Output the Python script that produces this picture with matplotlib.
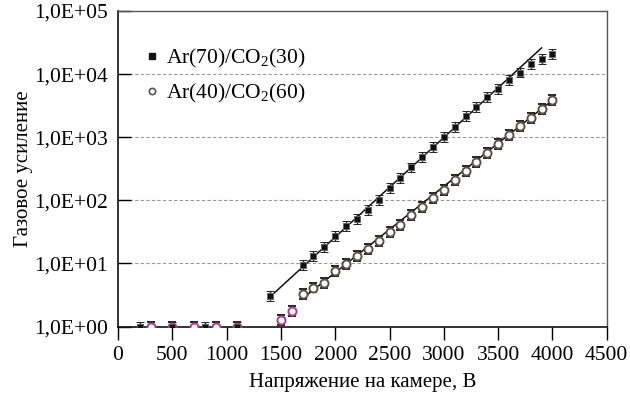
import numpy as np
import matplotlib
matplotlib.use("Agg")
import matplotlib.pyplot as plt
from matplotlib.lines import Line2D

plt.rcParams['font.family'] = ['Liberation Serif', 'DejaVu Serif']
plt.rcParams['mathtext.fontset'] = 'custom'
plt.rcParams['mathtext.rm'] = 'Liberation Serif'

# Ar(70)/CO2(30) - filled squares
v_sq_low = [200, 500, 800, 1100]
g_sq_low = [1.0, 1.0, 1.0, 1.0]
v_sq = [1400, 1700, 1800, 1900, 2000, 2100, 2200, 2300, 2400, 2500, 2600, 2700,
        2800, 2900, 3000, 3100, 3200, 3300, 3400, 3500, 3600, 3700, 3800, 3900, 4000]
g_sq = [3.0, 9.6, 13, 18, 27, 39, 50, 71, 100, 154, 226, 331,
        482, 693, 1010, 1455, 2130, 3020, 4360, 5910, 8000, 10600, 14200, 17200, 21200]
fit_sq_v = [1400, 3900]
fit_sq_g = [2.95, 26000]

# Ar(40)/CO2(60) - open circles
v_ci_low = [300, 500, 700, 900, 1100, 1500, 1600]
g_ci_low = [1.0, 1.0, 1.0, 1.0, 1.0, 1.26, 1.75]
v_ci = [1700, 1800, 1900, 2000, 2100, 2200, 2300, 2400, 2500, 2600, 2700, 2800,
        2900, 3000, 3100, 3200, 3300, 3400, 3500, 3600, 3700, 3800, 3900, 4000]
g_ci = [3.25, 4.15, 4.9, 7.6, 9.7, 13.3, 17.2, 23, 31, 40, 58, 79,
        107, 148, 208, 289, 398, 564, 794, 1076, 1479, 2050, 2810, 3860]
fit_ci_v = [1690, 4000]
fit_ci_g = [2.7, 3860]

rel_err = 0.2

xticks = [0, 500, 1000, 1500, 2000, 2500, 3000, 3500, 4000, 4500]
yticks = [1, 10, 100, 1000, 10000, 100000]
ylabels = ['1,0E+00', '1,0E+01', '1,0E+02', '1,0E+03', '1,0E+04', '1,0E+05']

fig = plt.figure(figsize=(6.3, 3.97), dpi=100)
ax = fig.add_axes([118/630, 1 - 326.5/397, (606.7-118)/630, (326.5-11)/397])

magenta = '#b03a8a'
circ_edge = '#5a504c'
FS = 15.5

def errs(g):
    g = np.asarray(g, float)
    return [g - g/(1+rel_err), g*rel_err]

ebkw = dict(elinewidth=1.0, capsize=2.6, capthick=1.0, ecolor='#222222', zorder=3)

# grid
for yv in yticks[1:-1]:
    ax.axhline(yv, color='#999999', lw=0.8, ls=(0, (3, 2)), zorder=1)

# fit lines
ax.plot(fit_sq_v, fit_sq_g, color='#111111', lw=1.1, zorder=2)
ax.plot(fit_ci_v, fit_ci_g, color='#111111', lw=1.1, zorder=2)

# low-voltage circles (magenta)
ax.errorbar(v_ci_low, g_ci_low, yerr=errs(g_ci_low), fmt='o', ms=5.8,
            mfc='white', mec=magenta, mew=1.4, **ebkw)
# low-voltage squares
ax.errorbar(v_sq_low, g_sq_low, yerr=errs(g_sq_low), fmt='s', ms=4.6,
            mfc='#111111', mec='#555555', mew=0.7, **ebkw)
# main squares
ax.errorbar(v_sq, g_sq, yerr=errs(g_sq), fmt='s', ms=4.6,
            mfc='#111111', mec='#666666', mew=0.7, **ebkw)
# main circles
ax.errorbar(v_ci, g_ci, yerr=errs(g_ci), fmt='o', ms=5.8,
            mfc='white', mec=circ_edge, mew=1.4, **ebkw)

ax.set_yscale('log')
ax.set_xlim(0, 4500)
ax.set_ylim(1, 100000)
ax.set_xticks(xticks)
ax.set_xticklabels([str(t) for t in xticks], fontsize=FS)
ax.set_yticks(yticks)
ax.set_yticklabels(ylabels, fontsize=FS)
ax.yaxis.set_minor_locator(matplotlib.ticker.NullLocator())
ax.tick_params(axis='x', direction='out', length=9, width=1.0, pad=5)
ax.tick_params(axis='y', direction='in', length=9, width=1.0, pad=7)

for s in ['left', 'bottom']:
    ax.spines[s].set_color('#111111')
    ax.spines[s].set_linewidth(1.2)
for s in ['top', 'right']:
    ax.spines[s].set_color('#555555')
    ax.spines[s].set_linewidth(1.0)

ax.set_xlabel('Напряжение на камере, В', fontsize=15, labelpad=6)
ax.set_ylabel('Газовое усиление', fontsize=15, labelpad=1)

handles = [Line2D([], [], ls='none', marker='s', ms=4, mfc='#111111', mec='#111111'),
           Line2D([], [], ls='none', marker='o', ms=4.5, mfc='white', mec=circ_edge, mew=1.2)]
ax.legend(handles, ['Ar(70)/CO$_2$(30)', 'Ar(40)/CO$_2$(60)'], loc='upper left',
          bbox_to_anchor=(0.041, 0.912), frameon=False, fontsize=FS,
          handlelength=0.5, handletextpad=0.4, labelspacing=0.55,
          borderaxespad=0.0, borderpad=0.4)

fig.savefig('out.png', dpi=100)
